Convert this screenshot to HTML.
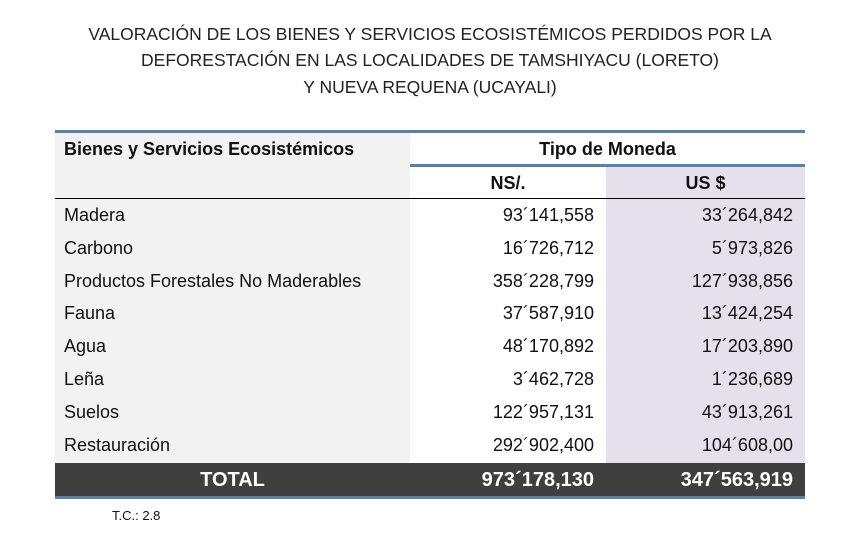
<!DOCTYPE html>
<html><head><meta charset="utf-8"><style>
body{margin:0;width:867px;height:539px;background:#fff;font-family:"Liberation Sans",sans-serif;position:relative;overflow:hidden;color:#111}
.a{position:absolute}
.t{left:0;width:860px;text-align:center;font-size:17.5px;color:#222}
.cell{position:absolute;height:32px;line-height:32px;font-size:18px;white-space:nowrap}
.r{text-align:right}
</style></head><body>
<div class="a t" style="top:24px">VALORACIÓN DE LOS BIENES Y SERVICIOS ECOSISTÉMICOS PERDIDOS POR LA</div>
<div class="a t" style="top:50px">DEFORESTACIÓN EN LAS LOCALIDADES DE TAMSHIYACU (LORETO)</div>
<div class="a t" style="top:77px">Y NUEVA REQUENA (UCAYALI)</div>

<div class="a" style="left:55px;top:133px;width:355px;height:330px;background:#f2f2f2"></div>
<div class="a" style="left:606px;top:167px;width:199px;height:296px;background:#e5e0ec"></div>
<div class="a" style="left:55px;top:130px;width:750px;height:3px;background:#5b7fa8"></div>
<div class="a" style="left:410px;top:164px;width:395px;height:3px;background:#5b7fa8"></div>
<div class="a" style="left:55px;top:198px;width:750px;height:1px;background:#000"></div>

<div class="cell" style="left:64px;top:133px;font-weight:bold">Bienes y Servicios Ecosistémicos</div>
<div class="cell" style="left:410px;width:395px;top:133px;text-align:center;font-weight:bold">Tipo de Moneda</div>
<div class="cell" style="left:410px;width:196px;top:167px;text-align:center;font-weight:bold">NS/.</div>
<div class="cell" style="left:606px;width:199px;top:167px;text-align:center;font-weight:bold">US $</div>

<div id="rows"></div>

<div class="a" style="left:55px;top:463px;width:750px;height:33px;background:#3f3f3f"></div>
<div class="a" style="left:55px;top:496px;width:750px;height:3px;background:#5b7fa8"></div>
<div class="cell" style="left:55px;width:355px;top:464px;text-align:center;color:#fff;font-weight:bold;font-size:20px">TOTAL</div>
<div class="cell r" style="left:410px;width:184px;top:464px;color:#fff;font-weight:bold;font-size:20px">973´178,130</div>
<div class="cell r" style="left:606px;width:187px;top:464px;color:#fff;font-weight:bold;font-size:20px">347´563,919</div>
<div class="a" style="left:112px;top:508px;font-size:13px">T.C.: 2.8</div>

<script>
const items=["Madera","Carbono","Productos Forestales No Maderables","Fauna","Agua","Leña","Suelos","Restauración"];
const ns=["93´141,558","16´726,712","358´228,799","37´587,910","48´170,892","3´462,728","122´957,131","292´902,400"];
const usd=["33´264,842","5´973,826","127´938,856","13´424,254","17´203,890","1´236,689","43´913,261","104´608,00"];
const root=document.getElementById('rows');
items.forEach((it,i)=>{
  const top=199+i*32.8;
  const a=document.createElement('div');a.className='cell';a.style.left='64px';a.style.top=top+'px';a.textContent=it;
  
  
  const b=document.createElement('div');b.className='cell r';b.style.left='410px';b.style.width='184px';b.style.top=top+'px';b.textContent=ns[i];
  
  
  const c=document.createElement('div');c.className='cell r';c.style.left='606px';c.style.width='187px';c.style.top=top+'px';c.textContent=usd[i];
  
  
  root.appendChild(a);root.appendChild(b);root.appendChild(c);
});
</script>
</body></html>
